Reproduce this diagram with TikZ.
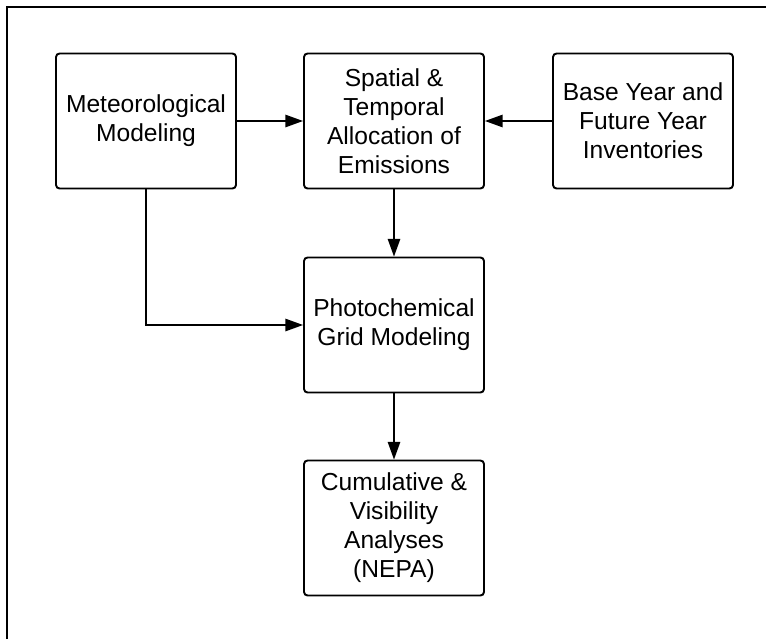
\documentclass[tikz,border=0pt]{standalone}
\usepackage{fontspec}
\setmainfont{Liberation Sans}
\usetikzlibrary{arrows.meta}
\begin{document}
\begin{tikzpicture}[x=0.02cm,y=-0.02cm,
    stage/.style={draw,line width=1.1pt,rounded corners=2pt,
      minimum width=3.6cm,minimum height=2.7cm,align=center,
      font=\fontsize{14}{16.5}\selectfont},
    flow/.style={-{Triangle[length=10pt,width=7pt]},line width=0.9pt}]
  \useasboundingbox (0,0) rectangle (766,639);
  \draw[line width=0.9pt] (7,639) -- (7,7) -- (766,7);
  \draw
    (146,121) node[stage] (met){Meteorological\\Modeling}
    (394,121) node[stage] (alloc){Spatial \&\\Temporal\\Allocation of\\Emissions}
    (643,121) node[stage] (inv){Base Year and\\Future Year\\Inventories}
    (394,325) node[stage] (photo){Photochemical\\Grid Modeling}
    (394,528) node[stage] (cum){Cumulative \&\\Visibility\\Analyses\\(NEPA)};
  \begin{scope}[flow]
    \draw (met) to (alloc);
    \draw (inv) to (alloc);
    \draw (alloc) to (photo);
    \draw (met) |- (photo);
    \draw (photo) to (cum);
  \end{scope}
\end{tikzpicture}
\end{document}
